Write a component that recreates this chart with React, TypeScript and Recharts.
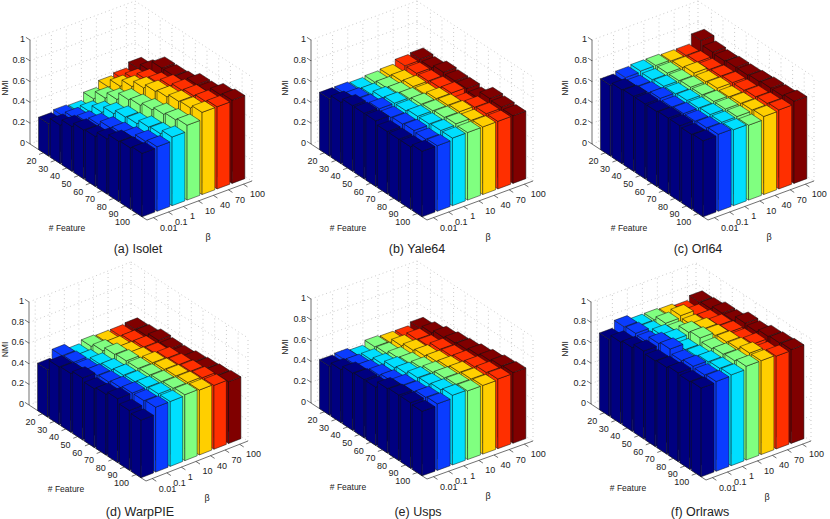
import { ScatterChart, Scatter, XAxis, YAxis, ReferenceLine } from 'recharts';

const featureTicks = ['20', '30', '40', '50', '60', '70', '80', '90', '100'];
const betaTicks = ['0.01', '0.1', '1', '10', '40', '70', '100'];
const nmiTicks = [0, 0.2, 0.4, 0.6, 0.8, 1];
const betaColors = ['#000080', '#0a3cff', '#00dfff', '#80ff80', '#ffcf00', '#ff2f00', '#800000'];

// NMI per beta (rows) and # feature (columns)
const isolet = [
  [0.31, 0.37, 0.43, 0.47, 0.48, 0.53, 0.58, 0.59, 0.61],
  [0.33, 0.38, 0.42, 0.47, 0.51, 0.53, 0.56, 0.6, 0.62],
  [0.32, 0.39, 0.46, 0.52, 0.56, 0.57, 0.61, 0.62, 0.66],
  [0.39, 0.47, 0.53, 0.6, 0.62, 0.65, 0.68, 0.7, 0.72],
  [0.45, 0.53, 0.6, 0.66, 0.7, 0.72, 0.75, 0.76, 0.79],
  [0.47, 0.54, 0.61, 0.65, 0.7, 0.73, 0.75, 0.77, 0.79],
  [0.52, 0.57, 0.67, 0.67, 0.68, 0.73, 0.73, 0.78, 0.8],
];
const yale64 = [
  [0.55, 0.59, 0.63, 0.63, 0.63, 0.6, 0.6, 0.6, 0.63],
  [0.55, 0.57, 0.58, 0.62, 0.61, 0.62, 0.63, 0.62, 0.63],
  [0.54, 0.56, 0.6, 0.62, 0.62, 0.64, 0.64, 0.65, 0.65],
  [0.55, 0.57, 0.59, 0.61, 0.63, 0.64, 0.65, 0.66, 0.65],
  [0.56, 0.58, 0.6, 0.6, 0.63, 0.64, 0.65, 0.64, 0.65],
  [0.6, 0.6, 0.6, 0.61, 0.63, 0.6, 0.64, 0.65, 0.65],
  [0.61, 0.6, 0.63, 0.62, 0.62, 0.6, 0.67, 0.66, 0.65],
];
const orl64 = [
  [0.68, 0.71, 0.72, 0.72, 0.72, 0.73, 0.73, 0.72, 0.73],
  [0.7, 0.69, 0.7, 0.72, 0.71, 0.72, 0.72, 0.73, 0.74],
  [0.71, 0.7, 0.71, 0.71, 0.72, 0.72, 0.73, 0.73, 0.73],
  [0.71, 0.71, 0.71, 0.72, 0.72, 0.73, 0.73, 0.73, 0.72],
  [0.7, 0.71, 0.73, 0.72, 0.73, 0.72, 0.73, 0.74, 0.75],
  [0.7, 0.71, 0.71, 0.72, 0.73, 0.73, 0.74, 0.75, 0.76],
  [0.79, 0.75, 0.74, 0.75, 0.75, 0.76, 0.77, 0.77, 0.79],
];
const warpPie = [
  [0.46, 0.56, 0.57, 0.6, 0.57, 0.59, 0.62, 0.58, 0.56],
  [0.54, 0.55, 0.55, 0.57, 0.58, 0.6, 0.62, 0.62, 0.63],
  [0.49, 0.51, 0.55, 0.57, 0.59, 0.6, 0.62, 0.63, 0.63],
  [0.52, 0.55, 0.59, 0.6, 0.6, 0.61, 0.62, 0.63, 0.64],
  [0.51, 0.53, 0.55, 0.57, 0.6, 0.61, 0.62, 0.63, 0.63],
  [0.51, 0.53, 0.55, 0.56, 0.59, 0.6, 0.61, 0.62, 0.62],
  [0.52, 0.53, 0.56, 0.55, 0.55, 0.57, 0.58, 0.59, 0.6],
];
const usps = [
  [0.47, 0.51, 0.55, 0.56, 0.56, 0.62, 0.63, 0.63, 0.62],
  [0.48, 0.5, 0.52, 0.55, 0.57, 0.6, 0.61, 0.63, 0.64],
  [0.46, 0.5, 0.53, 0.57, 0.59, 0.62, 0.63, 0.65, 0.67],
  [0.5, 0.51, 0.54, 0.56, 0.59, 0.62, 0.64, 0.65, 0.66],
  [0.49, 0.53, 0.56, 0.58, 0.6, 0.62, 0.64, 0.65, 0.66],
  [0.49, 0.54, 0.55, 0.59, 0.6, 0.62, 0.64, 0.66, 0.67],
  [0.52, 0.55, 0.58, 0.6, 0.61, 0.63, 0.65, 0.67, 0.68],
];
const orlraws = [
  [0.75, 0.8, 0.82, 0.86, 0.84, 0.85, 0.87, 0.86, 0.87],
  [0.82, 0.83, 0.82, 0.88, 0.9, 0.86, 0.88, 0.87, 0.88],
  [0.78, 0.79, 0.83, 0.86, 0.84, 0.85, 0.87, 0.88, 0.89],
  [0.78, 0.82, 0.81, 0.88, 0.9, 0.87, 0.89, 0.9, 0.92],
  [0.77, 0.84, 0.82, 0.86, 0.87, 0.88, 0.89, 0.92, 0.92],
  [0.75, 0.79, 0.81, 0.84, 0.85, 0.85, 0.88, 0.87, 0.91],
  [0.79, 0.8, 0.83, 0.83, 0.88, 0.87, 0.9, 0.91, 0.92],
];

// where each panel's box sits on the page: left, bottom, right corners and the y of z=1
const panels = [
  { title: '(a) Isolet', values: isolet, ox: 0, oy: 0, L: [30, 144], B: [147, 220], R: [252, 181], zTop: 40, titleX: 138, titleY: 249 },
  { title: '(b) Yale64', values: yale64, ox: 280, oy: 0, L: [311, 144], B: [427, 220], R: [533, 181], zTop: 40, titleX: 417, titleY: 249 },
  { title: '(c) Orl64', values: orl64, ox: 560, oy: 0, L: [592, 144], B: [708, 220], R: [814, 181], zTop: 40, titleX: 698, titleY: 249 },
  { title: '(d) WarpPIE', values: warpPie, ox: 0, oy: 255, L: [29, 405], B: [146, 481], R: [248, 441], zTop: 302, titleX: 140, titleY: 512 },
  { title: '(e) Usps', values: usps, ox: 280, oy: 255, L: [311, 403], B: [427, 479], R: [533, 441], zTop: 299, titleX: 418, titleY: 512 },
  { title: '(f) Orlraws', values: orlraws, ox: 560, oy: 255, L: [591, 404], B: [706, 480], R: [811, 441], zTop: 302, titleX: 700, titleY: 512 },
];

const CHART_W = 270;
const CHART_H = 264;
const FONT = 'Liberation Sans, Arial, sans-serif';
const GRID = '#b4b4b4';

type P = [number, number];

function Panel({ panel }: { panel: (typeof panels)[number] }) {
  const { ox, oy } = panel;
  const L: P = [panel.L[0] - ox, panel.L[1] - oy];
  const B: P = [panel.B[0] - ox, panel.B[1] - oy];
  const R: P = [panel.R[0] - ox, panel.R[1] - oy];
  const eu: P = [(B[0] - L[0]) / 10, (B[1] - L[1]) / 10];
  const ev: P = [(R[0] - B[0]) / 7, (R[1] - B[1]) / 7];
  const zUnit = L[1] - (panel.zTop - oy);
  const hw = 0.425;

  const at = (u: number, v: number, z = 0): P => [
    L[0] + u * eu[0] + v * ev[0],
    L[1] + u * eu[1] + v * ev[1] - z * zUnit,
  ];
  const uOf = (i: number) => 1.155 + i;
  const vOf = (j: number) => 0.425 + j;

  // single cuboid, cx/cy is the centre of its foot on the floor
  const bar = (color: string) => (props: any) => {
    const { cx, cy, payload } = props;
    const h = payload.value * zUnit;
    const c = (su: number, sv: number, top: boolean) =>
      `${cx + su * hw * eu[0] + sv * hw * ev[0]},${cy + su * hw * eu[1] + sv * hw * ev[1] - (top ? h : 0)}`;
    const style = { fill: color, stroke: '#111', strokeWidth: 0.5, strokeLinejoin: 'round' as const };
    return (
      <g>
        <polygon {...style} points={[c(-1, -1, false), c(1, -1, false), c(1, -1, true), c(-1, -1, true)].join(' ')} />
        <polygon {...style} points={[c(1, -1, false), c(1, 1, false), c(1, 1, true), c(1, -1, true)].join(' ')} />
        <polygon {...style} points={[c(-1, -1, true), c(1, -1, true), c(1, 1, true), c(-1, 1, true)].join(' ')} />
      </g>
    );
  };

  const texts: any[] = [];
  featureTicks.forEach((t, i) => {
    const p = at(uOf(i), 0);
    texts.push({ x: p[0] - 7, y: p[1] + 8.5, text: t, anchor: 'end', size: 9 });
  });
  betaTicks.forEach((t, j) => {
    const p = at(10, vOf(j));
    texts.push({ x: p[0] + 6.5, y: p[1] + 10, text: t, anchor: 'start', size: 9 });
  });
  nmiTicks.forEach((t) => {
    const p = at(0, 0, t);
    texts.push({ x: p[0] - 5, y: p[1] - 1, text: String(t), anchor: 'end', size: 9 });
  });
  texts.push({ x: Math.max(L[0] - 27, 5), y: (L[1] + at(0, 0, 1)[1]) / 2 - 4, text: 'NMI', anchor: 'middle', size: 8.5, rotate: -90 });
  texts.push({ x: L[0] + 37, y: B[1] + 8, text: '# Feature', anchor: 'middle', size: 8.5 });
  texts.push({ x: B[0] + 61, y: B[1] + 17, text: 'β', anchor: 'middle', size: 9 });
  texts.push({ x: panel.titleX - ox, y: panel.titleY - oy, text: panel.title, anchor: 'middle', size: 12.5 });

  const label = (props: any) => {
    const { cx, cy, payload } = props;
    return (
      <text
        x={cx}
        y={cy}
        textAnchor={payload.anchor}
        dominantBaseline="central"
        fontFamily={FONT}
        fontSize={payload.size}
        fill="#222"
        transform={payload.rotate ? `rotate(${payload.rotate} ${cx} ${cy})` : undefined}
      >
        {payload.text}
      </text>
    );
  };

  // wire box behind the bars
  const seg = (a: P, b: P, key: string, dotted = true) => (
    <ReferenceLine
      key={key}
      ifOverflow="visible"
      segment={[{ x: a[0], y: a[1] }, { x: b[0], y: b[1] }]}
      stroke={dotted ? GRID : '#333'}
      strokeWidth={0.7}
      strokeDasharray={dotted ? '1 3' : undefined}
    />
  );
  const wires: any[] = [];
  nmiTicks.forEach((t, k) => {
    wires.push(seg(at(0, 0, t), at(0, 7, t), `zl${k}`));
    wires.push(seg(at(0, 7, t), at(10, 7, t), `zr${k}`));
    wires.push(seg(at(0, 0, t), at(-0.35, 0, t), `zt${k}`, false));
  });
  featureTicks.forEach((_, i) => {
    wires.push(seg(at(uOf(i), 7), at(uOf(i), 7, 1), `fv${i}`));
    wires.push(seg(at(uOf(i), 0), at(uOf(i), -0.3), `ft${i}`, false));
  });
  betaTicks.forEach((_, j) => {
    wires.push(seg(at(0, vOf(j)), at(0, vOf(j), 1), `bv${j}`));
    wires.push(seg(at(10, vOf(j)), at(10.35, vOf(j)), `bt${j}`, false));
  });
  wires.push(seg(at(0, 7), at(0, 7, 1), 'corner'));
  wires.push(seg(at(10, 7), at(10, 7, 1), 'edge'));
  wires.push(seg(at(0, 0), at(0, 0, 1), 'zaxis', false));
  wires.push(seg(at(0, 0), at(10, 0), 'faxis', false));
  wires.push(seg(at(10, 0), at(10, 7), 'baxis', false));

  // back rows first so that nearer bars cover them
  const order = betaTicks.map((_, j) => j).reverse();

  return (
    <div style={{ position: 'absolute', left: ox, top: oy, width: CHART_W, height: CHART_H }}>
      <ScatterChart width={CHART_W} height={CHART_H} margin={{ top: 0, right: 0, bottom: 0, left: 0 }} style={{ overflow: 'visible' }}>
        <XAxis type="number" dataKey="x" domain={[0, CHART_W]} hide allowDataOverflow />
        <YAxis type="number" dataKey="y" domain={[0, CHART_H]} reversed hide allowDataOverflow />
        {wires}
        {order.map((j) => {
          const rows = panel.values[j].map((value, i) => {
            const p = at(uOf(i), vOf(j));
            return { x: p[0], y: p[1], value };
          });
          return <Scatter key={j} data={rows} shape={bar(betaColors[j])} isAnimationActive={false} />;
        })}
        <Scatter data={texts} shape={label} isAnimationActive={false} />
      </ScatterChart>
    </div>
  );
}

export default function App() {
  return (
    <div style={{ position: 'absolute', left: 0, top: 0, width: 830, height: 519, background: '#fff', overflow: 'hidden' }}>
      {panels.map((p) => (
        <Panel key={p.title} panel={p} />
      ))}
    </div>
  );
}
